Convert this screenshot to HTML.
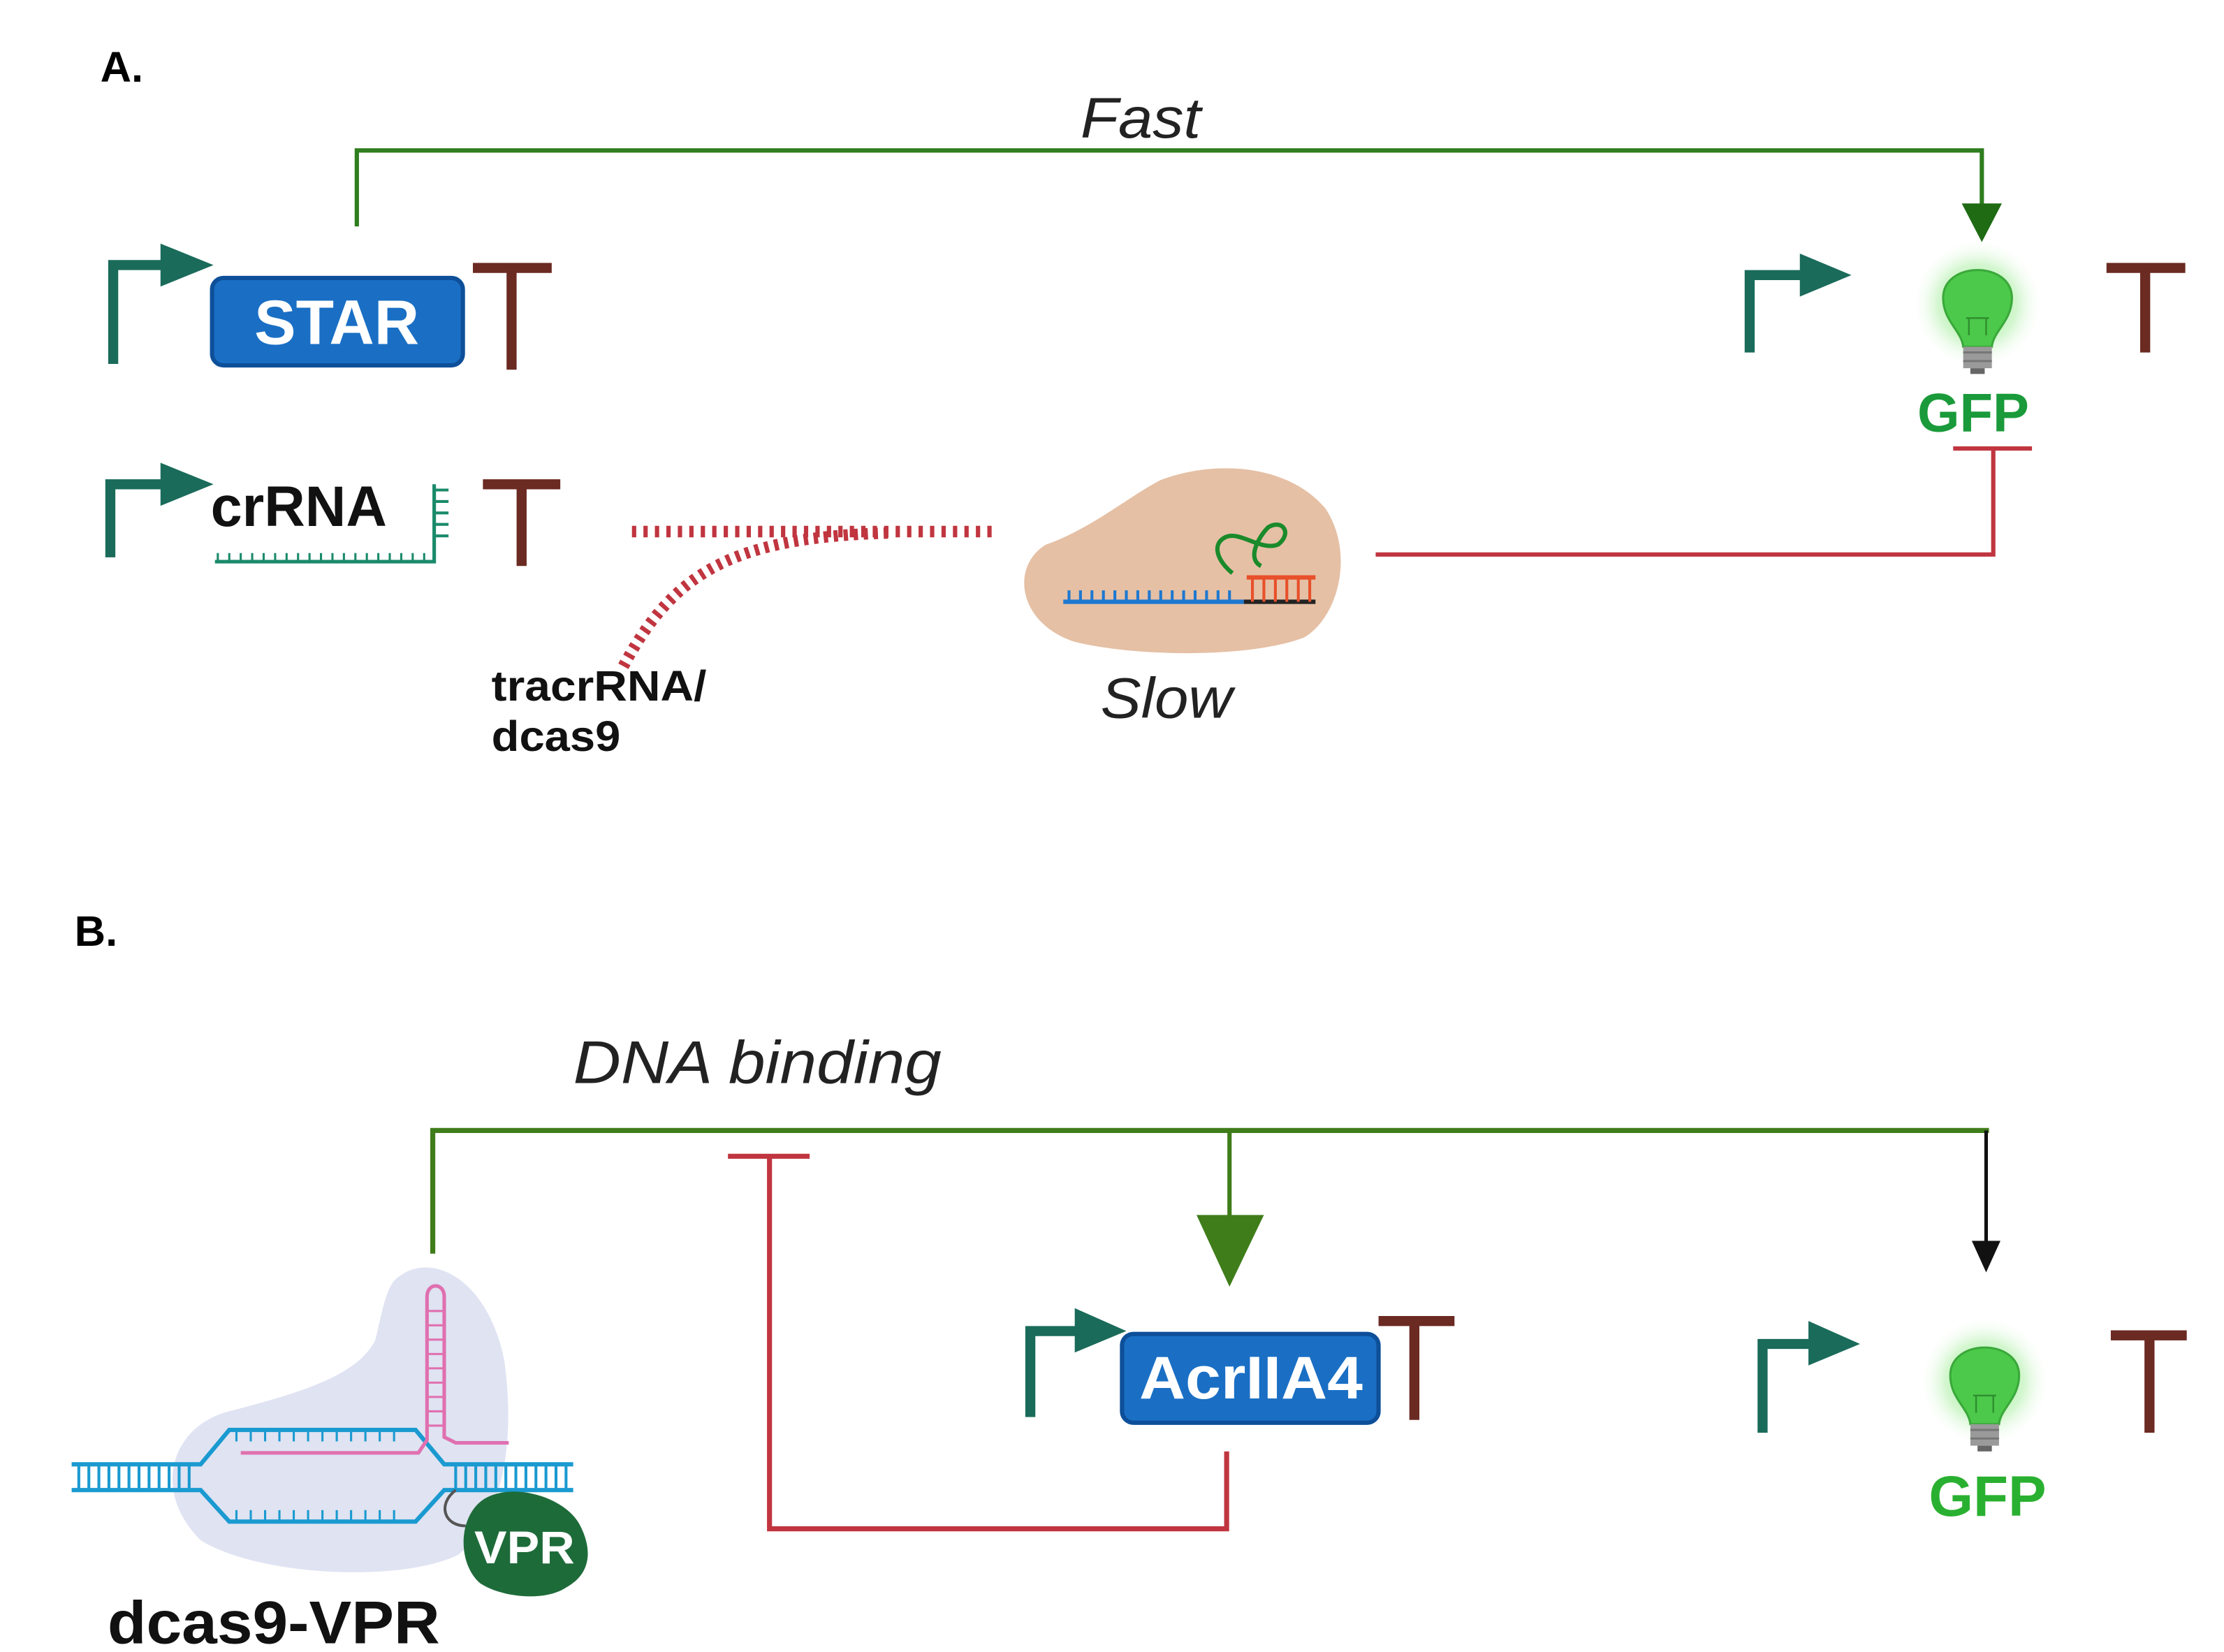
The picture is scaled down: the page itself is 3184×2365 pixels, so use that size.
<!DOCTYPE html>
<html><head><meta charset="utf-8"><style>
html,body{margin:0;padding:0;background:#fff;}
svg{display:block;}
text{font-family:"Liberation Sans",sans-serif;}
</style></head><body>
<svg width="3184" height="2365" viewBox="0 0 1552 1153" preserveAspectRatio="none" xmlns="http://www.w3.org/2000/svg">
<defs>
<radialGradient id="glow"><stop offset="0" stop-color="#7fe07a" stop-opacity="0.9"/><stop offset="0.6" stop-color="#a8eea0" stop-opacity="0.5"/><stop offset="1" stop-color="#fff" stop-opacity="0"/></radialGradient>
<g id="bulb">
<circle cx="0" cy="-2" r="46" fill="url(#glow)"/>
<path d="M-24,-6 C-24,-32 24,-32 24,-6 C24,10 11,17 10,28 L-10,28 C-11,17 -24,10 -24,-6Z" fill="#4cc94a" stroke="#3aa83a" stroke-width="1.5"/>
<path d="M-6,8 L-6,20 M6,8 L6,20 M-8,8 L8,8" stroke="#2f8f2f" stroke-width="1.2" fill="none"/>
<rect x="-10" y="28" width="20" height="15" fill="#9a9a9a"/>
<path d="M-10,32 H10 M-10,38 H10" stroke="#777" stroke-width="1.5"/>
<rect x="-5" y="43" width="10" height="4" fill="#666"/>
</g>
</defs>
<rect width="1552" height="1153" fill="#fff"/>

<!-- A -->
<text x="70" y="57" font-size="30" font-weight="bold">A.</text>
<text x="796" y="96" font-size="40" font-style="italic" text-anchor="middle" fill="#222" textLength="84" lengthAdjust="spacingAndGlyphs">Fast</text>
<path d="M249,158 V105 H1383 V145" stroke="#2e7d1e" stroke-width="3" fill="none"/>
<polygon points="1369,142 1397,142 1383,169" fill="#1e6b14"/>

<!-- STAR promoter -->
<path d="M79,254 V185 H114" stroke="#1a6b5a" stroke-width="7" fill="none"/>
<polygon points="112,170 112,200 149,185" fill="#1a6b5a"/>
<rect x="148" y="194" width="175" height="61" rx="8" fill="#1a6fc4" stroke="#0d4f99" stroke-width="3"/>
<text x="235" y="240" font-size="44" font-weight="bold" fill="#fff" text-anchor="middle" textLength="115" lengthAdjust="spacingAndGlyphs">STAR</text>
<path d="M357,258 V187 M330,187 H385" stroke="#6b2a22" stroke-width="7" fill="none"/>

<!-- GFP row A -->
<path d="M1221,246 V192 H1258" stroke="#1a6b5a" stroke-width="7" fill="none"/>
<polygon points="1256,177 1256,207 1292,192" fill="#1a6b5a"/>
<use href="#bulb" x="1380" y="214"/>
<path d="M1497,246 V187 M1470,187 H1525" stroke="#6b2a22" stroke-width="7" fill="none"/>
<text x="1377" y="301" font-size="38" font-weight="bold" fill="#1a9a3a" text-anchor="middle" textLength="78" lengthAdjust="spacingAndGlyphs">GFP</text>
<path d="M1363,313 H1418 M1391,313 V387 H960" stroke="#c0353f" stroke-width="3" fill="none"/>

<!-- crRNA -->
<path d="M77,389 V338 H114" stroke="#1a6b5a" stroke-width="7" fill="none"/>
<polygon points="112,323 112,353 149,338" fill="#1a6b5a"/>
<text x="147" y="367" font-size="40" font-weight="bold" fill="#111" textLength="123" lengthAdjust="spacingAndGlyphs">crRNA</text>
<path d="M150,392 H303 V338" stroke="#1a8a6a" stroke-width="2.5" fill="none"/>
<path d="M152,392 V386 M160,392 V386 M168,392 V386 M176,392 V386 M184,392 V386 M192,392 V386 M200,392 V386 M208,392 V386 M216,392 V386 M224,392 V386 M232,392 V386 M240,392 V386 M248,392 V386 M256,392 V386 M264,392 V386 M272,392 V386 M280,392 V386 M288,392 V386 M296,392 V386" stroke="#1a8a6a" stroke-width="1.5"/>
<path d="M303,342 H313 M303,350 H313 M303,358 H313 M303,366 H313 M303,374 H313" stroke="#1a8a6a" stroke-width="2"/>
<path d="M364,395 V338 M337,338 H391" stroke="#6b2a22" stroke-width="7" fill="none"/>

<!-- red dotted -->
<path d="M441,371 H695" stroke="#c0353f" stroke-width="8" stroke-dasharray="3,5" fill="none"/>
<path d="M435,465 C470,400 510,375 620,372" stroke="#c0353f" stroke-width="8" stroke-dasharray="3,4" fill="none"/>
<text x="343" y="489" font-size="30" font-weight="bold" fill="#111" textLength="150" lengthAdjust="spacingAndGlyphs">tracrRNA/</text>
<text x="343" y="524" font-size="30" font-weight="bold" fill="#111" textLength="90" lengthAdjust="spacingAndGlyphs">dcas9</text>

<!-- blob -->
<path d="M730,380 C760,370 790,345 810,335 C850,320 900,325 925,355 C945,385 935,430 910,445 C870,460 790,458 750,448 C710,435 705,395 730,380Z" fill="#e5c0a5"/>
<path d="M742,420 H868" stroke="#1e78d0" stroke-width="3"/>
<path d="M868,420 H918" stroke="#222" stroke-width="3"/>
<path d="M746,420 V412 M754,420 V412 M762,420 V412 M770,420 V412 M778,420 V412 M786,420 V412 M794,420 V412 M802,420 V412 M810,420 V412 M818,420 V412 M826,420 V412 M834,420 V412 M842,420 V412 M850,420 V412 M858,420 V412" stroke="#1e78d0" stroke-width="2"/>
<path d="M870,403 H918" stroke="#e8502a" stroke-width="3"/>
<path d="M874,403 V420 M882,403 V420 M890,403 V420 M898,403 V420 M906,403 V420 M914,403 V420" stroke="#e8502a" stroke-width="2"/>
<path d="M860,400 C850,392 845,380 855,375 C865,370 880,385 892,380 C902,372 895,362 885,368 C878,375 870,390 880,395" stroke="#1a8a2a" stroke-width="3" fill="none"/>
<text x="814" y="501" font-size="40" font-style="italic" text-anchor="middle" fill="#222" textLength="92" lengthAdjust="spacingAndGlyphs">Slow</text>

<!-- B -->
<text x="52" y="660" font-size="30" font-weight="bold">B.</text>
<text x="400" y="756" font-size="42" font-style="italic" fill="#222" textLength="257" lengthAdjust="spacingAndGlyphs">DNA binding</text>
<path d="M302,875 V789 H1388" stroke="#3f7d1a" stroke-width="3.5" fill="none"/>
<path d="M858,789 V850" stroke="#3f7d1a" stroke-width="3"/>
<polygon points="835,848 882,848 858,898" fill="#3f7d1a"/>
<path d="M1386,789 V868" stroke="#111" stroke-width="2.5"/>
<polygon points="1376,866 1396,866 1386,888" fill="#111"/>
<path d="M508,807 H565 M537,807 V1067 H856 V1013" stroke="#c0353f" stroke-width="3.5" fill="none"/>

<!-- AcrIIA4 -->
<path d="M719,989 V929 H752" stroke="#1a6b5a" stroke-width="7" fill="none"/>
<polygon points="750,913 750,944 786,929" fill="#1a6b5a"/>
<rect x="783" y="931" width="179" height="62" rx="8" fill="#1a6fc4" stroke="#0d4f99" stroke-width="3"/>
<text x="873" y="976" font-size="42" font-weight="bold" fill="#fff" text-anchor="middle" textLength="156" lengthAdjust="spacingAndGlyphs">AcrIIA4</text>
<path d="M987,991 V922 M962,922 H1015" stroke="#6b2a22" stroke-width="7" fill="none"/>

<!-- GFP B -->
<path d="M1230,1000 V938 H1264" stroke="#1a6b5a" stroke-width="7" fill="none"/>
<polygon points="1262,922 1262,953 1298,938" fill="#1a6b5a"/>
<use href="#bulb" x="1385" y="966"/>
<path d="M1500,1000 V932 M1473,932 H1526" stroke="#6b2a22" stroke-width="7" fill="none"/>
<text x="1387" y="1058" font-size="40" font-weight="bold" fill="#2ab030" text-anchor="middle" textLength="82" lengthAdjust="spacingAndGlyphs">GFP</text>

<!-- dcas9-VPR -->
<path d="M280,890 C300,875 340,890 352,950 C360,1010 350,1060 320,1085 C280,1105 180,1100 140,1075 C105,1040 120,995 160,985 C210,972 250,960 262,935 C268,910 270,895 280,890Z" fill="#dfe3f2"/>
<path d="M50,1022 H140 L160,998 H290 L310,1022 H400 M50,1040 H140 L160,1062 H290 L310,1040 H400" stroke="#1a9ad0" stroke-width="3" fill="none"/>
<path d="M55,1022 V1040 M62,1022 V1040 M69,1022 V1040 M76,1022 V1040 M83,1022 V1040 M90,1022 V1040 M97,1022 V1040 M104,1022 V1040 M111,1022 V1040 M118,1022 V1040 M125,1022 V1040 M132,1022 V1040 M318,1022 V1040 M325,1022 V1040 M332,1022 V1040 M339,1022 V1040 M346,1022 V1040 M353,1022 V1040 M360,1022 V1040 M367,1022 V1040 M374,1022 V1040 M381,1022 V1040 M388,1022 V1040 M395,1022 V1040" stroke="#1a9ad0" stroke-width="2"/>
<path d="M165,998 V1006 M175,998 V1006 M185,998 V1006 M195,998 V1006 M205,998 V1006 M215,998 V1006 M225,998 V1006 M235,998 V1006 M245,998 V1006 M255,998 V1006 M265,998 V1006 M275,998 V1006 M165,1062 V1054 M175,1062 V1054 M185,1062 V1054 M195,1062 V1054 M205,1062 V1054 M215,1062 V1054 M225,1062 V1054 M235,1062 V1054 M245,1062 V1054 M255,1062 V1054 M265,1062 V1054 M275,1062 V1054" stroke="#1a9ad0" stroke-width="1.5"/>
<path d="M168,1014 H292 L298,1005 V905 C298,895 310,895 310,905 V1003 L318,1007 H355" stroke="#e070b0" stroke-width="2.5" fill="none"/>
<path d="M298,915 H310 M298,925 H310 M298,935 H310 M298,945 H310 M298,955 H310 M298,965 H310 M298,975 H310 M298,985 H310 M298,995 H310" stroke="#e070b0" stroke-width="1.5"/>
<path d="M318,1040 C305,1050 310,1065 325,1065" stroke="#555" stroke-width="2" fill="none"/>
<path d="M340,1045 C360,1035 395,1045 405,1065 C415,1085 410,1100 395,1108 C380,1118 350,1115 335,1105 C318,1090 320,1055 340,1045Z" fill="#1e6b3a"/>
<text x="366" y="1091" font-size="32" font-weight="bold" fill="#fff" text-anchor="middle" textLength="70" lengthAdjust="spacingAndGlyphs">VPR</text>
<text x="75" y="1147" font-size="42" font-weight="bold" fill="#111" textLength="232" lengthAdjust="spacingAndGlyphs">dcas9-VPR</text>
</svg>
</body></html>
